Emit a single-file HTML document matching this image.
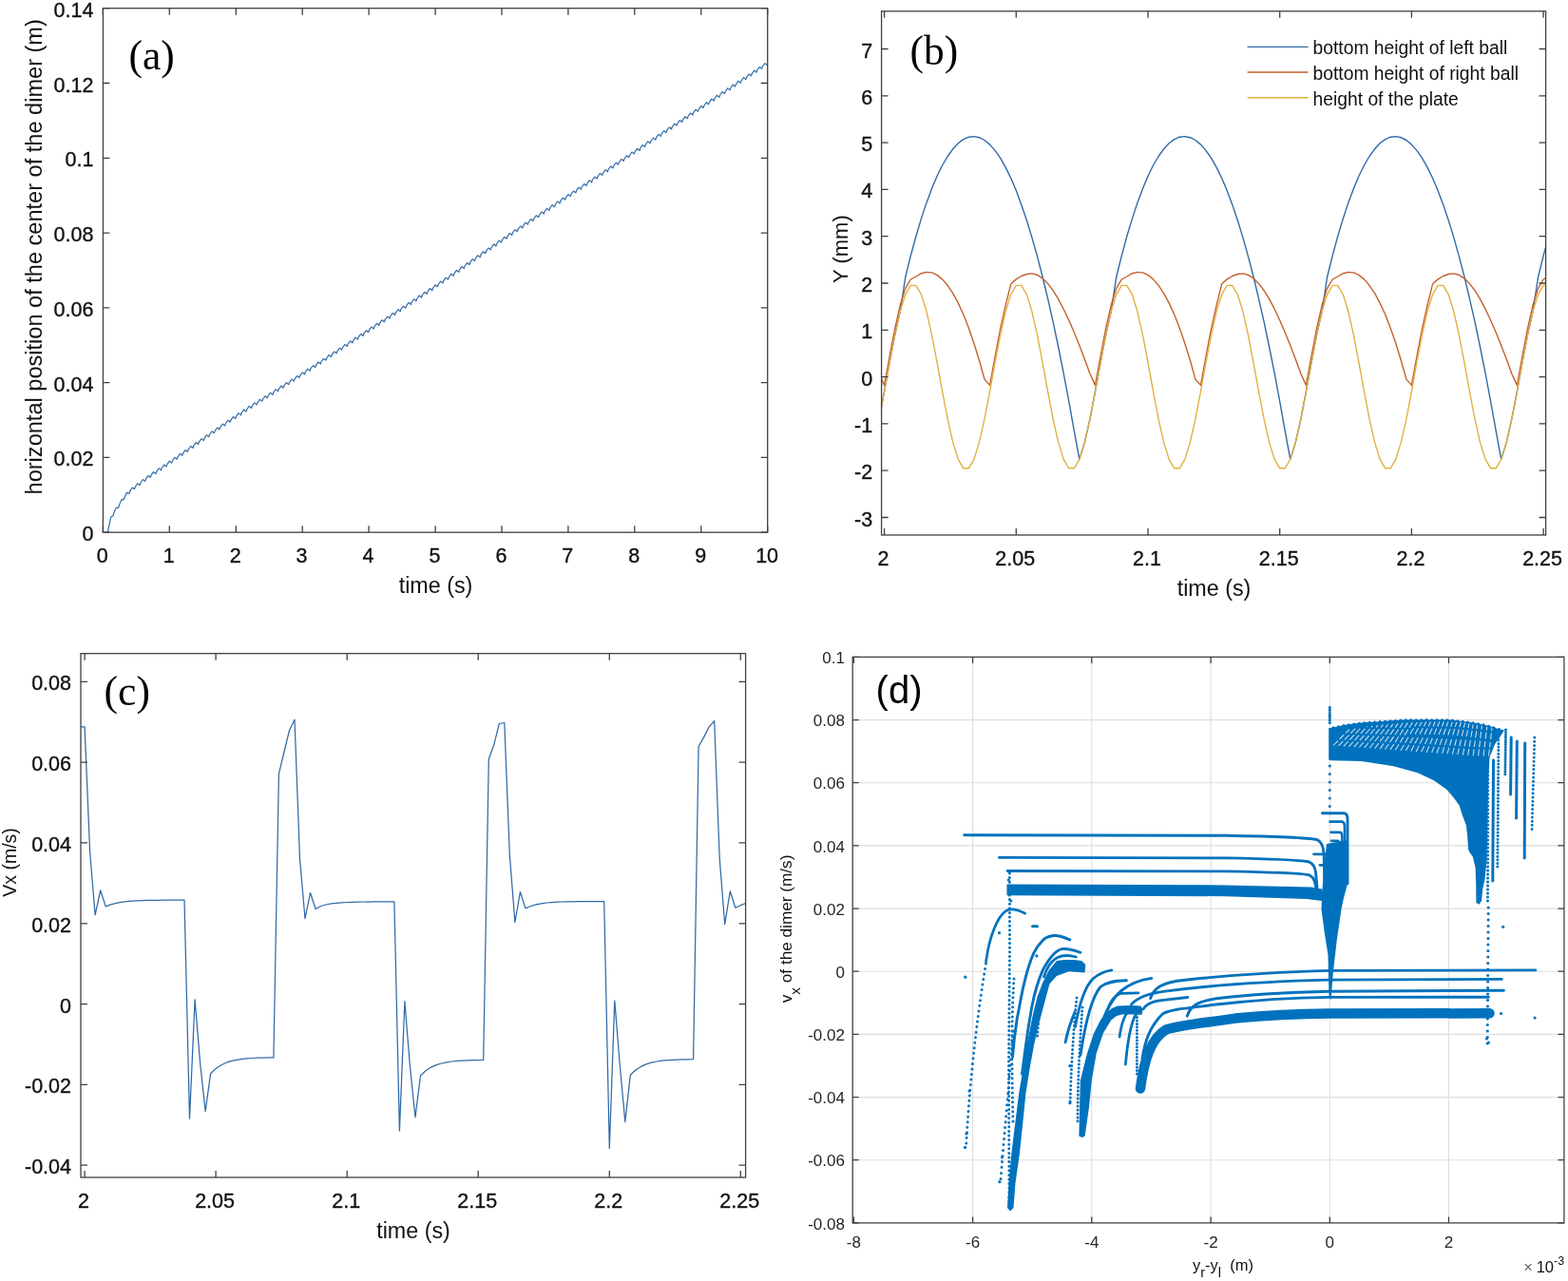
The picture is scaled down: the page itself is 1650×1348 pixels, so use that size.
<!DOCTYPE html>
<html><head><meta charset="utf-8"><title>Dimer dynamics figure</title>
<style>html,body{margin:0;padding:0;background:#fff;}svg{display:block;}</style>
</head><body>
<svg width="1650" height="1348" viewBox="0 0 1650 1348" font-family="'Liberation Sans', Arial, sans-serif"><polyline fill="none" stroke="#2f6aa6" stroke-width="1.2" stroke-linejoin="round" points="113.3,560.2 113.6,559 113.9,557.7 114.1,556.2 114.4,554.8 114.7,553.5 115,552.1 115.3,550.8 115.5,549.5 115.8,548.2 116.1,547 116.4,545.7 116.7,544.6 116.9,544 117.2,543.6 117.5,543.5 117.8,543.3 118.1,543.1 118.3,543 118.6,542.8 118.9,542.7 119.2,542.7 119.4,541.4 119.7,540.1 120,539.4 120.3,538.8 120.6,538.1 120.8,537.5 121.1,536.9 121.4,536.3 121.7,535.7 122,535.1 122.2,534.5 122.5,534.3 122.8,534.2 123.1,534.3 123.4,534.3 123.6,534.3 123.9,534.3 124.2,534.3 124.5,534.2 124.8,534.2 125,533 125.3,531.7 125.6,531 125.9,530.4 126.2,529.7 126.4,529.1 126.7,528.5 127,527.8 127.3,527.2 127.6,526.6 127.8,526 128.1,525.8 128.4,525.6 128.7,525.8 129,525.8 129.2,525.8 129.5,525.9 129.8,525.9 130.1,525.9 130.4,525.9 130.6,524.8 130.9,523.5 131.2,522.9 131.5,522.3 131.8,521.8 132,521.2 132.3,520.7 132.6,520.1 132.9,519.6 133.2,519.1 133.4,518.5 133.7,518.4 134,518.5 134.3,518.7 134.6,518.9 134.8,519 135.1,519.1 135.4,519.3 135.7,519.4 136,519.5 136.2,518.5 136.5,517.4 136.8,516.8 137.1,516.4 137.4,515.9 137.6,515.5 137.9,515 138.2,514.6 138.5,514.1 138.7,513.7 139,513.2 139.3,513.2 139.6,513.3 139.9,513.6 140.1,513.8 140.4,514 140.7,514.2 141,514.4 141.3,514.6 141.5,514.7 141.8,513.8 142.1,512.7 142.4,512.2 142.7,511.8 142.9,511.4 143.2,510.9 143.5,510.5 143.8,510.1 144.1,509.7 144.3,509.3 144.6,508.9 144.9,508.9 145.2,509 145.5,509.3 145.7,509.5 146,509.7 146.3,509.9 146.6,510.1 146.9,510.3 147.1,510.5 147.4,509.6 147.7,508.5 148,508 148.3,507.6 148.5,507.2 148.8,506.8 149.1,506.3 149.4,505.9 149.7,505.5 149.9,505.1 150.2,504.7 150.5,504.7 150.8,504.8 151.1,505.1 151.3,505.3 151.6,505.6 151.9,505.8 152.2,506 152.5,506.2 152.7,506.4 153,505.4 153.3,504.3 153.6,503.9 153.9,503.4 154.1,503 154.4,502.6 154.7,502.2 155,501.8 155.3,501.4 155.5,501 155.8,500.6 156.1,500.6 156.4,500.7 156.7,501.1 156.9,501.3 157.2,501.5 157.5,501.8 157.8,502 158.1,502.2 158.3,502.4 158.6,501.5 158.9,500.4 159.2,499.9 159.4,499.5 159.7,499.1 160,498.7 160.3,498.3 160.6,497.9 160.8,497.5 161.1,497.1 161.4,496.7 161.7,496.7 162,496.9 162.2,497.2 162.5,497.5 162.8,497.7 163.1,497.9 163.4,498.1 163.6,498.3 163.9,498.6 164.2,497.6 164.5,496.6 164.8,496.1 165,495.7 165.3,495.3 165.6,494.9 165.9,494.5 166.2,494.1 166.4,493.7 166.7,493.3 167,492.9 167.3,493 167.6,493.1 167.8,493.4 168.1,493.7 168.4,493.9 168.7,494.1 169,494.4 169.2,494.6 169.5,494.8 169.8,493.9 170.1,492.8 170.4,492.3 170.6,491.9 170.9,491.5 171.2,491.1 171.5,490.8 171.8,490.4 172,490 172.3,489.6 172.6,489.2 172.9,489.2 173.2,489.3 173.4,489.7 173.7,489.9 174,490.1 174.3,490.4 174.6,490.6 174.8,490.8 175.1,491 175.4,490.1 175.7,489 176,488.5 176.2,488.1 176.5,487.7 176.8,487.3 177.1,486.9 177.4,486.5 177.6,486.1 177.9,485.7 178.2,485.3 178.5,485.4 178.7,485.5 179,485.8 179.3,486.1 179.6,486.3 179.9,486.5 180.1,486.7 180.4,486.9 180.7,487.1 181,486.2 181.3,485.1 181.5,484.7 181.8,484.2 182.1,483.9 182.4,483.5 182.7,483.1 182.9,482.7 183.2,482.2 183.5,481.8 183.8,481.4 184.1,481.5 184.3,481.6 184.6,481.9 184.9,482.2 185.2,482.4 185.5,482.6 185.7,482.8 186,483 186.3,483.2 186.6,482.3 186.9,481.2 187.1,480.7 187.4,480.3 187.7,479.9 188,479.5 188.3,479.1 188.5,478.7 188.8,478.3 189.1,477.9 189.4,477.5 189.7,477.5 189.9,477.6 190.2,478 190.5,478.2 190.8,478.5 191.1,478.7 191.3,478.9 191.6,479.1 191.9,479.3 192.2,478.4 192.5,477.3 192.7,476.8 193,476.4 193.3,476 193.6,475.6 193.9,475.2 194.1,474.8 194.4,474.4 194.7,474 195,473.6 195.3,473.6 195.5,473.7 195.8,474.1 196.1,474.3 196.4,474.5 196.7,474.7 196.9,475 197.2,475.2 197.5,475.4 197.8,474.4 198.1,473.4 198.3,472.9 198.6,472.5 198.9,472.1 199.2,471.7 199.4,471.3 199.7,470.9 200,470.5 200.3,470 200.6,469.6 200.8,469.7 201.1,469.8 201.4,470.1 201.7,470.4 202,470.6 202.2,470.8 202.5,471 202.8,471.2 203.1,471.4 203.4,470.5 203.6,469.4 203.9,468.9 204.2,468.5 204.5,468.1 204.8,467.7 205,467.3 205.3,466.9 205.6,466.5 205.9,466.1 206.2,465.7 206.4,465.7 206.7,465.8 207,466.2 207.3,466.4 207.6,466.6 207.8,466.9 208.1,467.1 208.4,467.3 208.7,467.5 209,466.5 209.2,465.5 209.5,465 209.8,464.6 210.1,464.2 210.4,463.8 210.6,463.4 210.9,463 211.2,462.6 211.5,462.2 211.8,461.8 212,461.8 212.3,461.9 212.6,462.2 212.9,462.5 213.2,462.7 213.4,462.9 213.7,463.1 214,463.3 214.3,463.6 214.6,462.6 214.8,461.5 215.1,461.1 215.4,460.7 215.7,460.3 216,459.9 216.2,459.5 216.5,459.1 216.8,458.6 217.1,458.2 217.4,457.8 217.6,457.9 217.9,458 218.2,458.3 218.5,458.6 218.7,458.8 219,459 219.3,459.2 219.6,459.4 219.9,459.6 220.1,458.7 220.4,457.6 220.7,457.1 221,456.7 221.3,456.3 221.5,455.9 221.8,455.5 222.1,455.1 222.4,454.7 222.7,454.3 222.9,453.9 223.2,454 223.5,454.1 223.8,454.4 224.1,454.7 224.3,454.9 224.6,455.1 224.9,455.3 225.2,455.5 225.5,455.7 225.7,454.8 226,453.7 226.3,453.3 226.6,452.8 226.9,452.5 227.1,452.1 227.4,451.7 227.7,451.3 228,450.8 228.3,450.4 228.5,450 228.8,450.1 229.1,450.2 229.4,450.5 229.7,450.8 229.9,451 230.2,451.2 230.5,451.4 230.8,451.7 231.1,451.9 231.3,450.9 231.6,449.9 231.9,449.4 232.2,449 232.5,448.6 232.7,448.2 233,447.8 233.3,447.4 233.6,447 233.9,446.6 234.1,446.2 234.4,446.2 234.7,446.3 235,446.7 235.3,446.9 235.5,447.2 235.8,447.4 236.1,447.6 236.4,447.8 236.7,448 236.9,447.1 237.2,446 237.5,445.6 237.8,445.1 238.1,444.8 238.3,444.4 238.6,444 238.9,443.6 239.2,443.2 239.4,442.8 239.7,442.4 240,442.4 240.3,442.5 240.6,442.9 240.8,443.1 241.1,443.3 241.4,443.6 241.7,443.8 242,444 242.2,444.2 242.5,443.3 242.8,442.2 243.1,441.8 243.4,441.4 243.6,441 243.9,440.6 244.2,440.2 244.5,439.8 244.8,439.4 245,439 245.3,438.6 245.6,438.6 245.9,438.7 246.2,439.1 246.4,439.3 246.7,439.6 247,439.8 247.3,440 247.6,440.2 247.8,440.5 248.1,439.5 248.4,438.5 248.7,438 249,437.6 249.2,437.2 249.5,436.8 249.8,436.4 250.1,436 250.4,435.7 250.6,435.3 250.9,434.9 251.2,434.9 251.5,435 251.8,435.4 252,435.6 252.3,435.9 252.6,436.1 252.9,436.3 253.2,436.5 253.4,436.8 253.7,435.8 254,434.8 254.3,434.3 254.6,433.9 254.8,433.5 255.1,433.1 255.4,432.8 255.7,432.4 256,432 256.2,431.6 256.5,431.2 256.8,431.2 257.1,431.3 257.4,431.7 257.6,432 257.9,432.2 258.2,432.4 258.5,432.7 258.7,432.9 259,433.1 259.3,432.2 259.6,431.1 259.9,430.7 260.1,430.3 260.4,429.9 260.7,429.5 261,429.1 261.3,428.7 261.5,428.3 261.8,427.9 262.1,427.5 262.4,427.6 262.7,427.7 262.9,428.1 263.2,428.3 263.5,428.6 263.8,428.8 264.1,429 264.3,429.3 264.6,429.5 264.9,428.6 265.2,427.5 265.5,427 265.7,426.7 266,426.3 266.3,425.9 266.6,425.5 266.9,425.1 267.1,424.7 267.4,424.3 267.7,424 268,424 268.3,424.1 268.5,424.5 268.8,424.7 269.1,425 269.4,425.2 269.7,425.4 269.9,425.7 270.2,425.9 270.5,425 270.8,423.9 271.1,423.5 271.3,423.1 271.6,422.7 271.9,422.3 272.2,421.9 272.5,421.5 272.7,421.2 273,420.8 273.3,420.4 273.6,420.4 273.9,420.5 274.1,420.9 274.4,421.2 274.7,421.4 275,421.7 275.3,421.9 275.5,422.1 275.8,422.3 276.1,421.4 276.4,420.4 276.7,419.9 276.9,419.5 277.2,419.1 277.5,418.8 277.8,418.4 278.1,418 278.3,417.6 278.6,417.2 278.9,416.8 279.2,416.9 279.4,417 279.7,417.4 280,417.6 280.3,417.9 280.6,418.1 280.8,418.3 281.1,418.6 281.4,418.8 281.7,417.9 282,416.8 282.2,416.4 282.5,416 282.8,415.6 283.1,415.2 283.4,414.8 283.6,414.5 283.9,414.1 284.2,413.7 284.5,413.3 284.8,413.3 285,413.5 285.3,413.8 285.6,414.1 285.9,414.3 286.2,414.6 286.4,414.8 286.7,415 287,415.3 287.3,414.4 287.6,413.3 287.8,412.8 288.1,412.5 288.4,412.1 288.7,411.7 289,411.3 289.2,410.9 289.5,410.5 289.8,410.2 290.1,409.8 290.4,409.8 290.6,409.9 290.9,410.3 291.2,410.6 291.5,410.8 291.8,411.1 292,411.3 292.3,411.5 292.6,411.7 292.9,410.8 293.2,409.8 293.4,409.3 293.7,408.9 294,408.6 294.3,408.2 294.6,407.8 294.8,407.4 295.1,407 295.4,406.6 295.7,406.2 296,406.3 296.2,406.4 296.5,406.8 296.8,407 297.1,407.3 297.4,407.5 297.6,407.8 297.9,408 298.2,408.2 298.5,407.3 298.7,406.2 299,405.8 299.3,405.4 299.6,405 299.9,404.6 300.1,404.3 300.4,403.9 300.7,403.5 301,403.1 301.3,402.7 301.5,402.7 301.8,402.9 302.1,403.2 302.4,403.5 302.7,403.7 302.9,404 303.2,404.2 303.5,404.4 303.8,404.7 304.1,403.7 304.3,402.7 304.6,402.2 304.9,401.8 305.2,401.5 305.5,401.1 305.7,400.7 306,400.3 306.3,399.9 306.6,399.5 306.9,399.2 307.1,399.2 307.4,399.3 307.7,399.7 308,399.9 308.3,400.2 308.5,400.4 308.8,400.7 309.1,400.9 309.4,401.1 309.7,400.2 309.9,399.1 310.2,398.7 310.5,398.3 310.8,397.9 311.1,397.5 311.3,397.1 311.6,396.7 311.9,396.4 312.2,396 312.5,395.6 312.7,395.6 313,395.7 313.3,396.1 313.6,396.4 313.9,396.6 314.1,396.8 314.4,397.1 314.7,397.3 315,397.5 315.3,396.6 315.5,395.5 315.8,395.1 316.1,394.7 316.4,394.3 316.7,393.9 316.9,393.5 317.2,393.1 317.5,392.7 317.8,392.4 318.1,392 318.3,392 318.6,392.1 318.9,392.5 319.2,392.7 319.4,393 319.7,393.2 320,393.4 320.3,393.7 320.6,393.9 320.8,393 321.1,391.9 321.4,391.4 321.7,391 322,390.7 322.2,390.3 322.5,389.9 322.8,389.5 323.1,389.1 323.4,388.7 323.6,388.3 323.9,388.4 324.2,388.5 324.5,388.8 324.8,389.1 325,389.3 325.3,389.6 325.6,389.8 325.9,390 326.2,390.2 326.4,389.3 326.7,388.3 327,387.8 327.3,387.4 327.6,387 327.8,386.6 328.1,386.2 328.4,385.9 328.7,385.5 329,385.1 329.2,384.7 329.5,384.7 329.8,384.8 330.1,385.2 330.4,385.5 330.6,385.7 330.9,385.9 331.2,386.1 331.5,386.4 331.8,386.6 332,385.7 332.3,384.6 332.6,384.1 332.9,383.7 333.2,383.4 333.4,383 333.7,382.6 334,382.2 334.3,381.8 334.6,381.4 334.8,381 335.1,381 335.4,381.2 335.7,381.5 336,381.8 336.2,382 336.5,382.3 336.8,382.5 337.1,382.7 337.4,382.9 337.6,382 337.9,380.9 338.2,380.5 338.5,380.1 338.7,379.7 339,379.3 339.3,378.9 339.6,378.5 339.9,378.1 340.1,377.7 340.4,377.3 340.7,377.4 341,377.5 341.3,377.9 341.5,378.1 341.8,378.3 342.1,378.6 342.4,378.8 342.7,379 342.9,379.2 343.2,378.3 343.5,377.3 343.8,376.8 344.1,376.4 344.3,376 344.6,375.6 344.9,375.2 345.2,374.8 345.5,374.4 345.7,374.1 346,373.7 346.3,373.7 346.6,373.8 346.9,374.2 347.1,374.4 347.4,374.7 347.7,374.9 348,375.1 348.3,375.3 348.5,375.6 348.8,374.6 349.1,373.6 349.4,373.1 349.7,372.7 349.9,372.3 350.2,371.9 350.5,371.5 350.8,371.2 351.1,370.8 351.3,370.4 351.6,370 351.9,370 352.2,370.1 352.5,370.5 352.7,370.7 353,371 353.3,371.2 353.6,371.4 353.9,371.6 354.1,371.9 354.4,370.9 354.7,369.9 355,369.4 355.3,369 355.5,368.6 355.8,368.2 356.1,367.9 356.4,367.5 356.7,367.1 356.9,366.7 357.2,366.3 357.5,366.3 357.8,366.4 358.1,366.8 358.3,367 358.6,367.3 358.9,367.5 359.2,367.7 359.4,368 359.7,368.2 360,367.2 360.3,366.2 360.6,365.7 360.8,365.3 361.1,364.9 361.4,364.5 361.7,364.2 362,363.8 362.2,363.4 362.5,363 362.8,362.6 363.1,362.6 363.4,362.7 363.6,363.1 363.9,363.3 364.2,363.6 364.5,363.8 364.8,364 365,364.3 365.3,364.5 365.6,363.5 365.9,362.5 366.2,362 366.4,361.6 366.7,361.2 367,360.9 367.3,360.5 367.6,360.1 367.8,359.7 368.1,359.3 368.4,358.9 368.7,358.9 369,359 369.2,359.4 369.5,359.6 369.8,359.9 370.1,360.1 370.4,360.3 370.6,360.6 370.9,360.8 371.2,359.8 371.5,358.8 371.8,358.3 372,357.9 372.3,357.5 372.6,357.2 372.9,356.8 373.2,356.4 373.4,356 373.7,355.6 374,355.2 374.3,355.2 374.6,355.3 374.8,355.7 375.1,355.9 375.4,356.2 375.7,356.4 376,356.6 376.2,356.9 376.5,357.1 376.8,356.2 377.1,355.1 377.4,354.6 377.6,354.2 377.9,353.8 378.2,353.5 378.5,353.1 378.7,352.7 379,352.3 379.3,351.9 379.6,351.5 379.9,351.5 380.1,351.6 380.4,352 380.7,352.3 381,352.5 381.3,352.7 381.5,352.9 381.8,353.2 382.1,353.4 382.4,352.5 382.7,351.4 382.9,350.9 383.2,350.5 383.5,350.2 383.8,349.8 384.1,349.4 384.3,349 384.6,348.6 384.9,348.2 385.2,347.8 385.5,347.8 385.7,348 386,348.3 386.3,348.6 386.6,348.8 386.9,349 387.1,349.3 387.4,349.5 387.7,349.7 388,348.8 388.3,347.7 388.5,347.2 388.8,346.8 389.1,346.5 389.4,346.1 389.7,345.7 389.9,345.3 390.2,344.9 390.5,344.5 390.8,344.1 391.1,344.1 391.3,344.3 391.6,344.6 391.9,344.9 392.2,345.1 392.5,345.4 392.7,345.6 393,345.8 393.3,346 393.6,345.1 393.9,344 394.1,343.6 394.4,343.2 394.7,342.8 395,342.4 395.3,342 395.5,341.6 395.8,341.2 396.1,340.8 396.4,340.4 396.7,340.5 396.9,340.6 397.2,341 397.5,341.2 397.8,341.5 398.1,341.7 398.3,341.9 398.6,342.1 398.9,342.4 399.2,341.4 399.4,340.4 399.7,339.9 400,339.5 400.3,339.1 400.6,338.7 400.8,338.3 401.1,338 401.4,337.6 401.7,337.2 402,336.8 402.2,336.8 402.5,336.9 402.8,337.3 403.1,337.6 403.4,337.8 403.6,338 403.9,338.2 404.2,338.5 404.5,338.7 404.8,337.8 405,336.7 405.3,336.2 405.6,335.8 405.9,335.5 406.2,335.1 406.4,334.7 406.7,334.3 407,333.9 407.3,333.5 407.6,333.1 407.8,333.2 408.1,333.3 408.4,333.6 408.7,333.9 409,334.1 409.2,334.4 409.5,334.6 409.8,334.8 410.1,335 410.4,334.1 410.6,333 410.9,332.6 411.2,332.2 411.5,331.8 411.8,331.4 412,331 412.3,330.6 412.6,330.2 412.9,329.9 413.2,329.5 413.4,329.5 413.7,329.6 414,330 414.3,330.2 414.6,330.5 414.8,330.7 415.1,330.9 415.4,331.2 415.7,331.4 416,330.5 416.2,329.4 416.5,328.9 416.8,328.5 417.1,328.2 417.4,327.8 417.6,327.4 417.9,327 418.2,326.6 418.5,326.2 418.7,325.8 419,325.8 419.3,326 419.6,326.3 419.9,326.6 420.1,326.8 420.4,327 420.7,327.3 421,327.5 421.3,327.7 421.5,326.8 421.8,325.7 422.1,325.3 422.4,324.9 422.7,324.5 422.9,324.1 423.2,323.7 423.5,323.3 423.8,322.9 424.1,322.5 424.3,322.1 424.6,322.2 424.9,322.3 425.2,322.7 425.5,322.9 425.7,323.2 426,323.4 426.3,323.6 426.6,323.8 426.9,324.1 427.1,323.1 427.4,322.1 427.7,321.6 428,321.2 428.3,320.8 428.5,320.4 428.8,320 429.1,319.7 429.4,319.3 429.7,318.9 429.9,318.5 430.2,318.5 430.5,318.6 430.8,319 431.1,319.2 431.3,319.5 431.6,319.7 431.9,319.9 432.2,320.2 432.5,320.4 432.7,319.4 433,318.4 433.3,317.9 433.6,317.5 433.9,317.1 434.1,316.8 434.4,316.4 434.7,316 435,315.6 435.3,315.2 435.5,314.8 435.8,314.8 436.1,314.9 436.4,315.3 436.7,315.6 436.9,315.8 437.2,316 437.5,316.2 437.8,316.5 438.1,316.7 438.3,315.8 438.6,314.7 438.9,314.2 439.2,313.8 439.4,313.4 439.7,313.1 440,312.7 440.3,312.3 440.6,311.9 440.8,311.5 441.1,311.1 441.4,311.1 441.7,311.2 442,311.6 442.2,311.9 442.5,312.1 442.8,312.3 443.1,312.5 443.4,312.8 443.6,313 443.9,312 444.2,311 444.5,310.5 444.8,310.1 445,309.7 445.3,309.3 445.6,309 445.9,308.6 446.2,308.2 446.4,307.8 446.7,307.4 447,307.4 447.3,307.5 447.6,307.9 447.8,308.1 448.1,308.4 448.4,308.6 448.7,308.8 449,309 449.2,309.3 449.5,308.3 449.8,307.3 450.1,306.8 450.4,306.4 450.6,306 450.9,305.6 451.2,305.2 451.5,304.8 451.8,304.4 452,304 452.3,303.6 452.6,303.7 452.9,303.8 453.2,304.1 453.4,304.4 453.7,304.6 454,304.8 454.3,305.1 454.6,305.3 454.8,305.5 455.1,304.6 455.4,303.5 455.7,303 456,302.6 456.2,302.2 456.5,301.9 456.8,301.5 457.1,301.1 457.4,300.7 457.6,300.3 457.9,299.9 458.2,299.9 458.5,300 458.7,300.4 459,300.6 459.3,300.8 459.6,301.1 459.9,301.3 460.1,301.5 460.4,301.7 460.7,300.8 461,299.7 461.3,299.3 461.5,298.8 461.8,298.5 462.1,298.1 462.4,297.7 462.7,297.3 462.9,296.9 463.2,296.5 463.5,296.1 463.8,296.1 464.1,296.2 464.3,296.6 464.6,296.8 464.9,297 465.2,297.3 465.5,297.5 465.7,297.7 466,297.9 466.3,297 466.6,295.9 466.9,295.4 467.1,295 467.4,294.6 467.7,294.2 468,293.8 468.3,293.4 468.5,293 468.8,292.6 469.1,292.2 469.4,292.3 469.7,292.4 469.9,292.7 470.2,293 470.5,293.2 470.8,293.4 471.1,293.6 471.3,293.9 471.6,294.1 471.9,293.1 472.2,292.1 472.5,291.6 472.7,291.2 473,290.8 473.3,290.4 473.6,290 473.9,289.6 474.1,289.2 474.4,288.8 474.7,288.4 475,288.4 475.3,288.5 475.5,288.9 475.8,289.1 476.1,289.3 476.4,289.6 476.7,289.8 476.9,290 477.2,290.2 477.5,289.3 477.8,288.2 478,287.7 478.3,287.3 478.6,286.9 478.9,286.5 479.2,286.1 479.4,285.7 479.7,285.3 480,284.9 480.3,284.5 480.6,284.5 480.8,284.6 481.1,285 481.4,285.2 481.7,285.4 482,285.7 482.2,285.9 482.5,286.1 482.8,286.3 483.1,285.4 483.4,284.3 483.6,283.8 483.9,283.4 484.2,283 484.5,282.6 484.8,282.2 485,281.8 485.3,281.4 485.6,281 485.9,280.6 486.2,280.6 486.4,280.7 486.7,281.1 487,281.3 487.3,281.5 487.6,281.8 487.8,282 488.1,282.2 488.4,282.4 488.7,281.4 489,280.4 489.2,279.9 489.5,279.5 489.8,279.1 490.1,278.7 490.4,278.3 490.6,277.9 490.9,277.5 491.2,277.1 491.5,276.7 491.8,276.7 492,276.8 492.3,277.1 492.6,277.4 492.9,277.6 493.2,277.8 493.4,278 493.7,278.3 494,278.5 494.3,277.5 494.6,276.4 494.8,276 495.1,275.6 495.4,275.2 495.7,274.8 496,274.4 496.2,274 496.5,273.6 496.8,273.2 497.1,272.7 497.4,272.8 497.6,272.9 497.9,273.2 498.2,273.5 498.5,273.7 498.7,273.9 499,274.1 499.3,274.3 499.6,274.5 499.9,273.6 500.1,272.5 500.4,272.1 500.7,271.6 501,271.2 501.3,270.8 501.5,270.4 501.8,270 502.1,269.6 502.4,269.2 502.7,268.8 502.9,268.8 503.2,268.9 503.5,269.3 503.8,269.5 504.1,269.8 504.3,270 504.6,270.2 504.9,270.4 505.2,270.6 505.5,269.7 505.7,268.6 506,268.1 506.3,267.7 506.6,267.3 506.9,266.9 507.1,266.5 507.4,266.1 507.7,265.7 508,265.3 508.3,264.9 508.5,264.9 508.8,265 509.1,265.4 509.4,265.6 509.7,265.8 509.9,266.1 510.2,266.3 510.5,266.5 510.8,266.7 511.1,265.8 511.3,264.7 511.6,264.2 511.9,263.8 512.2,263.4 512.5,263 512.7,262.6 513,262.2 513.3,261.8 513.6,261.4 513.9,261 514.1,261 514.4,261.1 514.7,261.5 515,261.7 515.3,261.9 515.5,262.2 515.8,262.4 516.1,262.6 516.4,262.8 516.7,261.9 516.9,260.8 517.2,260.3 517.5,259.9 517.8,259.5 518,259.1 518.3,258.7 518.6,258.3 518.9,257.9 519.2,257.5 519.4,257.1 519.7,257.1 520,257.2 520.3,257.6 520.6,257.8 520.8,258 521.1,258.3 521.4,258.5 521.7,258.7 522,258.9 522.2,258 522.5,256.9 522.8,256.4 523.1,256 523.4,255.6 523.6,255.2 523.9,254.8 524.2,254.4 524.5,254 524.8,253.6 525,253.2 525.3,253.2 525.6,253.3 525.9,253.7 526.2,253.9 526.4,254.2 526.7,254.4 527,254.6 527.3,254.8 527.6,255 527.8,254.1 528.1,253 528.4,252.6 528.7,252.1 529,251.8 529.2,251.4 529.5,251 529.8,250.6 530.1,250.2 530.4,249.8 530.6,249.4 530.9,249.4 531.2,249.5 531.5,249.8 531.8,250.1 532,250.3 532.3,250.6 532.6,250.8 532.9,251 533.2,251.2 533.4,250.3 533.7,249.2 534,248.7 534.3,248.3 534.6,247.9 534.8,247.5 535.1,247.1 535.4,246.7 535.7,246.3 536,245.9 536.2,245.5 536.5,245.6 536.8,245.7 537.1,246 537.4,246.3 537.6,246.5 537.9,246.7 538.2,247 538.5,247.2 538.7,247.4 539,246.5 539.3,245.4 539.6,244.9 539.9,244.5 540.1,244.1 540.4,243.7 540.7,243.3 541,242.9 541.3,242.6 541.5,242.2 541.8,241.8 542.1,241.8 542.4,241.9 542.7,242.2 542.9,242.5 543.2,242.7 543.5,243 543.8,243.2 544.1,243.4 544.3,243.6 544.6,242.7 544.9,241.6 545.2,241.2 545.5,240.7 545.7,240.4 546,240 546.3,239.6 546.6,239.2 546.9,238.8 547.1,238.4 547.4,238 547.7,238 548,238.1 548.3,238.5 548.5,238.7 548.8,239 549.1,239.2 549.4,239.4 549.7,239.6 549.9,239.9 550.2,238.9 550.5,237.9 550.8,237.4 551.1,237 551.3,236.6 551.6,236.2 551.9,235.8 552.2,235.4 552.5,235 552.7,234.6 553,234.2 553.3,234.3 553.6,234.4 553.9,234.7 554.1,235 554.4,235.2 554.7,235.5 555,235.7 555.3,235.9 555.5,236.1 555.8,235.2 556.1,234.1 556.4,233.7 556.7,233.3 556.9,232.9 557.2,232.5 557.5,232.1 557.8,231.7 558,231.3 558.3,230.9 558.6,230.5 558.9,230.5 559.2,230.7 559.4,231 559.7,231.3 560,231.5 560.3,231.7 560.6,232 560.8,232.2 561.1,232.4 561.4,231.5 561.7,230.4 562,229.9 562.2,229.5 562.5,229.2 562.8,228.8 563.1,228.4 563.4,228 563.6,227.6 563.9,227.2 564.2,226.8 564.5,226.8 564.8,226.9 565,227.3 565.3,227.6 565.6,227.8 565.9,228 566.2,228.2 566.4,228.5 566.7,228.7 567,227.7 567.3,226.7 567.6,226.2 567.8,225.8 568.1,225.4 568.4,225.1 568.7,224.7 569,224.3 569.2,223.9 569.5,223.5 569.8,223.1 570.1,223.1 570.4,223.2 570.6,223.6 570.9,223.8 571.2,224.1 571.5,224.3 571.8,224.5 572,224.8 572.3,225 572.6,224 572.9,223 573.2,222.5 573.4,222.1 573.7,221.7 574,221.4 574.3,221 574.6,220.6 574.8,220.2 575.1,219.8 575.4,219.4 575.7,219.4 576,219.5 576.2,219.9 576.5,220.2 576.8,220.4 577.1,220.6 577.4,220.8 577.6,221.1 577.9,221.3 578.2,220.4 578.5,219.3 578.7,218.8 579,218.4 579.3,218.1 579.6,217.7 579.9,217.3 580.1,216.9 580.4,216.5 580.7,216.1 581,215.7 581.3,215.7 581.5,215.8 581.8,216.2 582.1,216.5 582.4,216.7 582.7,216.9 582.9,217.2 583.2,217.4 583.5,217.6 583.8,216.7 584.1,215.6 584.3,215.1 584.6,214.7 584.9,214.4 585.2,214 585.5,213.6 585.7,213.2 586,212.8 586.3,212.4 586.6,212 586.9,212 587.1,212.2 587.4,212.5 587.7,212.8 588,213 588.3,213.2 588.5,213.5 588.8,213.7 589.1,213.9 589.4,213 589.7,211.9 589.9,211.5 590.2,211.1 590.5,210.7 590.8,210.3 591.1,209.9 591.3,209.5 591.6,209.1 591.9,208.7 592.2,208.3 592.5,208.4 592.7,208.5 593,208.8 593.3,209.1 593.6,209.3 593.9,209.6 594.1,209.8 594.4,210 594.7,210.2 595,209.3 595.3,208.2 595.5,207.8 595.8,207.4 596.1,207 596.4,206.6 596.7,206.2 596.9,205.8 597.2,205.4 597.5,205 597.8,204.6 598,204.7 598.3,204.8 598.6,205.2 598.9,205.4 599.2,205.7 599.4,205.9 599.7,206.1 600,206.3 600.3,206.6 600.6,205.6 600.8,204.6 601.1,204.1 601.4,203.7 601.7,203.3 602,202.9 602.2,202.5 602.5,202.1 602.8,201.8 603.1,201.4 603.4,201 603.6,201 603.9,201.1 604.2,201.5 604.5,201.7 604.8,202 605,202.2 605.3,202.4 605.6,202.6 605.9,202.9 606.2,201.9 606.4,200.9 606.7,200.4 607,200 607.3,199.6 607.6,199.2 607.8,198.8 608.1,198.5 608.4,198.1 608.7,197.7 609,197.3 609.2,197.3 609.5,197.4 609.8,197.8 610.1,198 610.4,198.3 610.6,198.5 610.9,198.7 611.2,199 611.5,199.2 611.8,198.2 612,197.2 612.3,196.7 612.6,196.3 612.9,195.9 613.2,195.5 613.4,195.2 613.7,194.8 614,194.4 614.3,194 614.6,193.6 614.8,193.6 615.1,193.7 615.4,194.1 615.7,194.3 616,194.6 616.2,194.8 616.5,195 616.8,195.3 617.1,195.5 617.4,194.5 617.6,193.5 617.9,193 618.2,192.6 618.5,192.2 618.7,191.8 619,191.5 619.3,191.1 619.6,190.7 619.9,190.3 620.1,189.9 620.4,189.9 620.7,190 621,190.4 621.3,190.6 621.5,190.9 621.8,191.1 622.1,191.3 622.4,191.5 622.7,191.8 622.9,190.8 623.2,189.8 623.5,189.3 623.8,188.9 624.1,188.5 624.3,188.1 624.6,187.7 624.9,187.3 625.2,186.9 625.5,186.6 625.7,186.2 626,186.2 626.3,186.3 626.6,186.7 626.9,186.9 627.1,187.2 627.4,187.4 627.7,187.6 628,187.8 628.3,188 628.5,187.1 628.8,186 629.1,185.6 629.4,185.2 629.7,184.8 629.9,184.4 630.2,184 630.5,183.6 630.8,183.2 631.1,182.8 631.3,182.4 631.6,182.5 631.9,182.6 632.2,182.9 632.5,183.2 632.7,183.4 633,183.7 633.3,183.9 633.6,184.1 633.9,184.3 634.1,183.4 634.4,182.3 634.7,181.9 635,181.5 635.3,181.1 635.5,180.7 635.8,180.3 636.1,179.9 636.4,179.5 636.7,179.1 636.9,178.7 637.2,178.7 637.5,178.9 637.8,179.2 638,179.5 638.3,179.7 638.6,179.9 638.9,180.2 639.2,180.4 639.4,180.6 639.7,179.7 640,178.6 640.3,178.1 640.6,177.7 640.8,177.4 641.1,177 641.4,176.6 641.7,176.2 642,175.8 642.2,175.4 642.5,175 642.8,175 643.1,175.1 643.4,175.5 643.6,175.8 643.9,176 644.2,176.2 644.5,176.4 644.8,176.7 645,176.9 645.3,175.9 645.6,174.9 645.9,174.4 646.2,174 646.4,173.6 646.7,173.2 647,172.9 647.3,172.5 647.6,172.1 647.8,171.7 648.1,171.3 648.4,171.3 648.7,171.4 649,171.8 649.2,172 649.5,172.3 649.8,172.5 650.1,172.7 650.4,172.9 650.6,173.2 650.9,172.2 651.2,171.2 651.5,170.7 651.8,170.3 652,169.9 652.3,169.5 652.6,169.1 652.9,168.7 653.2,168.3 653.4,167.9 653.7,167.5 654,167.6 654.3,167.7 654.6,168.1 654.8,168.3 655.1,168.5 655.4,168.8 655.7,169 656,169.2 656.2,169.4 656.5,168.5 656.8,167.4 657.1,167 657.4,166.6 657.6,166.2 657.9,165.8 658.2,165.4 658.5,165 658.7,164.6 659,164.2 659.3,163.8 659.6,163.9 659.9,164 660.1,164.3 660.4,164.6 660.7,164.8 661,165 661.3,165.3 661.5,165.5 661.8,165.7 662.1,164.8 662.4,163.7 662.7,163.2 662.9,162.8 663.2,162.5 663.5,162.1 663.8,161.7 664.1,161.3 664.3,160.9 664.6,160.5 664.9,160.1 665.2,160.1 665.5,160.2 665.7,160.6 666,160.9 666.3,161.1 666.6,161.3 666.9,161.5 667.1,161.8 667.4,162 667.7,161.1 668,160 668.3,159.5 668.5,159.1 668.8,158.7 669.1,158.3 669.4,158 669.7,157.6 669.9,157.2 670.2,156.8 670.5,156.4 670.8,156.4 671.1,156.5 671.3,156.9 671.6,157.1 671.9,157.4 672.2,157.6 672.5,157.8 672.7,158 673,158.3 673.3,157.3 673.6,156.3 673.9,155.8 674.1,155.4 674.4,155 674.7,154.6 675,154.2 675.3,153.8 675.5,153.4 675.8,153 676.1,152.6 676.4,152.7 676.7,152.8 676.9,153.2 677.2,153.4 677.5,153.6 677.8,153.9 678,154.1 678.3,154.3 678.6,154.5 678.9,153.6 679.2,152.5 679.4,152.1 679.7,151.7 680,151.3 680.3,150.9 680.6,150.5 680.8,150.1 681.1,149.7 681.4,149.3 681.7,148.9 682,149 682.2,149.1 682.5,149.4 682.8,149.7 683.1,149.9 683.4,150.1 683.6,150.4 683.9,150.6 684.2,150.8 684.5,149.9 684.8,148.8 685,148.3 685.3,147.9 685.6,147.6 685.9,147.2 686.2,146.8 686.4,146.4 686.7,146 687,145.6 687.3,145.2 687.6,145.2 687.8,145.3 688.1,145.7 688.4,146 688.7,146.2 689,146.4 689.2,146.6 689.5,146.9 689.8,147.1 690.1,146.1 690.4,145.1 690.6,144.6 690.9,144.2 691.2,143.8 691.5,143.4 691.8,143 692,142.7 692.3,142.3 692.6,141.9 692.9,141.5 693.2,141.5 693.4,141.6 693.7,142 694,142.2 694.3,142.5 694.6,142.7 694.8,142.9 695.1,143.1 695.4,143.3 695.7,142.4 696,141.4 696.2,140.9 696.5,140.5 696.8,140.1 697.1,139.7 697.4,139.3 697.6,138.9 697.9,138.5 698.2,138.1 698.5,137.7 698.7,137.8 699,137.9 699.3,138.2 699.6,138.5 699.9,138.7 700.1,139 700.4,139.2 700.7,139.4 701,139.6 701.3,138.7 701.5,137.6 701.8,137.2 702.1,136.8 702.4,136.4 702.7,136 702.9,135.6 703.2,135.2 703.5,134.8 703.8,134.4 704.1,134 704.3,134 704.6,134.2 704.9,134.5 705.2,134.8 705.5,135 705.7,135.2 706,135.5 706.3,135.7 706.6,135.9 706.9,135 707.1,133.9 707.4,133.4 707.7,133 708,132.6 708.3,132.3 708.5,131.9 708.8,131.5 709.1,131.1 709.4,130.7 709.7,130.3 709.9,130.3 710.2,130.4 710.5,130.8 710.8,131 711.1,131.3 711.3,131.5 711.6,131.7 711.9,131.9 712.2,132.2 712.5,131.2 712.7,130.2 713,129.7 713.3,129.3 713.6,128.9 713.9,128.5 714.1,128.1 714.4,127.7 714.7,127.3 715,126.9 715.3,126.5 715.5,126.6 715.8,126.7 716.1,127 716.4,127.3 716.7,127.5 716.9,127.8 717.2,128 717.5,128.2 717.8,128.4 718,127.5 718.3,126.4 718.6,126 718.9,125.6 719.2,125.2 719.4,124.8 719.7,124.4 720,124 720.3,123.6 720.6,123.2 720.8,122.8 721.1,122.8 721.4,123 721.7,123.3 722,123.6 722.2,123.8 722.5,124 722.8,124.3 723.1,124.5 723.4,124.7 723.6,123.8 723.9,122.7 724.2,122.2 724.5,121.8 724.8,121.4 725,121.1 725.3,120.7 725.6,120.3 725.9,119.9 726.2,119.5 726.4,119.1 726.7,119.1 727,119.2 727.3,119.6 727.6,119.8 727.8,120.1 728.1,120.3 728.4,120.5 728.7,120.7 729,121 729.2,120 729.5,119 729.8,118.5 730.1,118.1 730.4,117.7 730.6,117.3 730.9,116.9 731.2,116.5 731.5,116.1 731.8,115.7 732,115.3 732.3,115.4 732.6,115.5 732.9,115.8 733.2,116.1 733.4,116.3 733.7,116.6 734,116.8 734.3,117 734.6,117.2 734.8,116.3 735.1,115.2 735.4,114.8 735.7,114.4 736,114 736.2,113.6 736.5,113.2 736.8,112.8 737.1,112.4 737.4,112 737.6,111.6 737.9,111.6 738.2,111.8 738.5,112.1 738.7,112.4 739,112.6 739.3,112.8 739.6,113.1 739.9,113.3 740.1,113.5 740.4,112.6 740.7,111.5 741,111 741.3,110.6 741.5,110.2 741.8,109.9 742.1,109.5 742.4,109.1 742.7,108.7 742.9,108.3 743.2,107.9 743.5,107.9 743.8,108 744.1,108.4 744.3,108.6 744.6,108.9 744.9,109.1 745.2,109.3 745.5,109.5 745.7,109.8 746,108.8 746.3,107.8 746.6,107.3 746.9,106.9 747.1,106.5 747.4,106.1 747.7,105.7 748,105.3 748.3,104.9 748.5,104.5 748.8,104.1 749.1,104.2 749.4,104.3 749.7,104.6 749.9,104.9 750.2,105.1 750.5,105.4 750.8,105.6 751.1,105.8 751.3,106 751.6,105.1 751.9,104 752.2,103.6 752.5,103.2 752.7,102.8 753,102.4 753.3,102 753.6,101.6 753.9,101.2 754.1,100.8 754.4,100.4 754.7,100.4 755,100.5 755.3,100.9 755.5,101.2 755.8,101.4 756.1,101.6 756.4,101.8 756.7,102.1 756.9,102.3 757.2,101.3 757.5,100.3 757.8,99.8 758,99.4 758.3,99 758.6,98.6 758.9,98.3 759.2,97.9 759.4,97.5 759.7,97.1 760,96.7 760.3,96.7 760.6,96.8 760.8,97.2 761.1,97.4 761.4,97.7 761.7,97.9 762,98.1 762.2,98.3 762.5,98.5 762.8,97.6 763.1,96.5 763.4,96.1 763.6,95.7 763.9,95.3 764.2,94.9 764.5,94.5 764.8,94.1 765,93.7 765.3,93.3 765.6,92.9 765.9,93 766.2,93.1 766.4,93.4 766.7,93.7 767,93.9 767.3,94.1 767.6,94.4 767.8,94.6 768.1,94.8 768.4,93.9 768.7,92.8 769,92.3 769.2,91.9 769.5,91.6 769.8,91.2 770.1,90.8 770.4,90.4 770.6,90 770.9,89.6 771.2,89.2 771.5,89.2 771.8,89.3 772,89.7 772.3,89.9 772.6,90.2 772.9,90.4 773.2,90.6 773.4,90.8 773.7,91.1 774,90.1 774.3,89.1 774.6,88.6 774.8,88.2 775.1,87.8 775.4,87.4 775.7,87 776,86.6 776.2,86.2 776.5,85.8 776.8,85.4 777.1,85.5 777.4,85.6 777.6,85.9 777.9,86.2 778.2,86.4 778.5,86.7 778.7,86.9 779,87.1 779.3,87.3 779.6,86.4 779.9,85.3 780.1,84.9 780.4,84.5 780.7,84.1 781,83.7 781.3,83.3 781.5,82.9 781.8,82.5 782.1,82.1 782.4,81.7 782.7,81.7 782.9,81.8 783.2,82.2 783.5,82.5 783.8,82.7 784.1,82.9 784.3,83.1 784.6,83.4 784.9,83.6 785.2,82.6 785.5,81.6 785.7,81.1 786,80.7 786.3,80.3 786.6,79.9 786.9,79.5 787.1,79.2 787.4,78.8 787.7,78.4 788,78 788.3,78 788.5,78.1 788.8,78.5 789.1,78.7 789.4,78.9 789.7,79.2 789.9,79.4 790.2,79.6 790.5,79.8 790.8,78.9 791.1,77.8 791.3,77.4 791.6,77 791.9,76.6 792.2,76.2 792.5,75.8 792.7,75.4 793,75 793.3,74.6 793.6,74.2 793.9,74.2 794.1,74.4 794.4,74.7 794.7,75 795,75.2 795.3,75.4 795.5,75.7 795.8,75.9 796.1,76.1 796.4,75.2 796.7,74.1 796.9,73.6 797.2,73.2 797.5,72.8 797.8,72.5 798,72.1 798.3,71.7 798.6,71.3 798.9,70.9 799.2,70.5 799.4,70.5 799.7,70.6 800,71 800.3,71.2 800.6,71.5 800.8,71.7 801.1,71.9 801.4,72.1 801.7,72.3 802,71.4 802.2,70.3 802.5,69.9 802.8,69.5 803.1,69.1 803.4,68.7 803.6,68.3 803.9,67.9 804.2,67.5 804.5,67.1 804.8,66.7 805,66.8 805.3,66.9 805.6,67.2 805.9,67.5 806.2,67.7 806.4,67.9 806.7,68.2 807,68.4 807.3,68.6 807.6,67.7"/>
<path d="M108.4 560.2V553.2M108.4 8.7V15.7M178.3 560.2V553.2M178.3 8.7V15.7M248.3 560.2V553.2M248.3 8.7V15.7M318.2 560.2V553.2M318.2 8.7V15.7M388.1 560.2V553.2M388.1 8.7V15.7M458.1 560.2V553.2M458.1 8.7V15.7M528 560.2V553.2M528 8.7V15.7M597.9 560.2V553.2M597.9 8.7V15.7M667.8 560.2V553.2M667.8 8.7V15.7M737.8 560.2V553.2M737.8 8.7V15.7M807.7 560.2V553.2M807.7 8.7V15.7M108.4 560.2H115.4M807.7 560.2H800.7M108.4 481.4H115.4M807.7 481.4H800.7M108.4 402.6H115.4M807.7 402.6H800.7M108.4 323.8H115.4M807.7 323.8H800.7M108.4 245.1H115.4M807.7 245.1H800.7M108.4 166.3H115.4M807.7 166.3H800.7M108.4 87.5H115.4M807.7 87.5H800.7M108.4 8.7H115.4M807.7 8.7H800.7" stroke="#404040" stroke-width="1.3" fill="none"/>
<rect x="108.4" y="8.7" width="699.3" height="551.5" fill="none" stroke="#404040" stroke-width="1.3"/>
<g font-size="21.5" fill="#111" stroke="#111" stroke-width="0.35"><text x="107.8" y="592.1" text-anchor="middle">0</text><text x="177.7" y="592.1" text-anchor="middle">1</text><text x="247.7" y="592.1" text-anchor="middle">2</text><text x="317.6" y="592.1" text-anchor="middle">3</text><text x="387.5" y="592.1" text-anchor="middle">4</text><text x="457.5" y="592.1" text-anchor="middle">5</text><text x="527.4" y="592.1" text-anchor="middle">6</text><text x="597.3" y="592.1" text-anchor="middle">7</text><text x="667.2" y="592.1" text-anchor="middle">8</text><text x="737.2" y="592.1" text-anchor="middle">9</text><text x="807.1" y="592.1" text-anchor="middle">10</text><text x="98.4" y="569.2" text-anchor="end">0</text><text x="98.4" y="490.4" text-anchor="end">0.02</text><text x="98.4" y="411.6" text-anchor="end">0.04</text><text x="98.4" y="332.8" text-anchor="end">0.06</text><text x="98.4" y="254.1" text-anchor="end">0.08</text><text x="98.4" y="175.3" text-anchor="end">0.1</text><text x="98.4" y="96.5" text-anchor="end">0.12</text><text x="98.4" y="17.7" text-anchor="end">0.14</text></g>
<text x="458.5" y="623.8" text-anchor="middle" font-size="23.3" fill="#111">time (s)</text>
<text transform="translate(44.4 270.3) rotate(-90)" text-anchor="middle" font-size="23.57" fill="#111">horizontal position of the center of the dimer (m)</text>
<text x="135.5" y="72.8" font-family="'Liberation Serif', 'Times New Roman', serif" font-size="43.5" fill="#000">(a)</text>
<clipPath id="cb"><rect x="927.6" y="11.8" width="699" height="551.2"/></clipPath>
<g clip-path="url(#cb)"><polyline fill="none" stroke="#2f6aa6" stroke-width="1.4" stroke-linejoin="round" points="914,483.4 919.5,465.4 925.1,440.8 930.6,411.8 936.1,381.4 941.7,352.4 947.2,327.8 952.8,291.5 958.3,269.2 963.9,248.7 969.4,230.1 975,213.4 980.5,198.4 986.1,185.3 991.6,174 997.2,164.5 1002.7,156.8 1008.3,150.8 1013.8,146.6 1019.4,144.2 1024.9,143.6 1030.5,144.7 1036,147.5 1041.6,152.1 1047.1,158.4 1052.7,166.4 1058.2,176.1 1063.8,187.5 1069.3,200.6 1074.8,215.4 1080.4,231.8 1085.9,249.9 1091.5,269.6 1097,291 1102.6,314.1 1108.1,338.7 1113.7,365 1119.2,392.8 1124.8,422.3 1130.3,453.4 1135.9,483.4 1141.4,465.4 1147,440.8 1152.5,411.8 1158.1,381.4 1163.6,352.4 1169.2,327.8 1174.7,291.5 1180.3,269.2 1185.8,248.7 1191.4,230.1 1196.9,213.4 1202.5,198.4 1208,185.3 1213.5,174 1219.1,164.5 1224.6,156.8 1230.2,150.8 1235.7,146.6 1241.3,144.2 1246.8,143.6 1252.4,144.7 1257.9,147.5 1263.5,152.1 1269,158.4 1274.6,166.4 1280.1,176.1 1285.7,187.5 1291.2,200.6 1296.8,215.4 1302.3,231.8 1307.9,249.9 1313.4,269.6 1319,291 1324.5,314.1 1330.1,338.7 1335.6,365 1341.2,392.8 1346.7,422.3 1352.2,453.4 1357.8,483.4 1363.3,465.4 1368.9,440.8 1374.4,411.8 1380,381.4 1385.5,352.4 1391.1,327.8 1396.6,291.5 1402.2,269.2 1407.7,248.7 1413.3,230.1 1418.8,213.4 1424.4,198.4 1429.9,185.3 1435.5,174 1441,164.5 1446.6,156.8 1452.1,150.8 1457.7,146.6 1463.2,144.2 1468.8,143.6 1474.3,144.7 1479.9,147.5 1485.4,152.1 1490.9,158.4 1496.5,166.4 1502,176.1 1507.6,187.5 1513.1,200.6 1518.7,215.4 1524.2,231.8 1529.8,249.9 1535.3,269.6 1540.9,291 1546.4,314.1 1552,338.7 1557.5,365 1563.1,392.8 1568.6,422.3 1574.2,453.4 1579.7,483.4 1585.3,465.4 1590.8,440.8 1596.4,411.8 1601.9,381.4 1607.5,352.4 1613,327.8 1618.6,291.5 1624.1,269.2 1629.6,248.7 1635.2,230.1 1640.7,213.4"/><polyline fill="none" stroke="#c4602e" stroke-width="1.4" stroke-linejoin="round" points="914,363.6 919.5,378.1 925.1,393.2 930.6,405.4 936.1,375 941.7,346 947.2,321.3 952.8,303.4 958.3,294 963.9,291 969.4,287.7 975,286.4 980.5,286.9 986.1,289.4 991.6,293.9 997.2,300.3 1002.7,308.6 1008.3,318.9 1013.8,331 1019.4,345.2 1024.9,361.2 1030.5,379.2 1036,399.1 1041.6,405.4 1047.1,375 1052.7,346 1058.2,321.3 1063.8,298.7 1069.3,293.9 1074.8,290.5 1080.4,288.5 1085.9,287.9 1091.5,289.3 1097,292.8 1102.6,298.4 1108.1,305.7 1113.7,314.7 1119.2,325.2 1124.8,337 1130.3,349.8 1135.9,363.6 1141.4,378.1 1147,393.2 1152.5,405.4 1158.1,375 1163.6,346 1169.2,321.3 1174.7,303.4 1180.3,294 1185.8,291 1191.4,287.7 1196.9,286.4 1202.5,286.9 1208,289.4 1213.5,293.9 1219.1,300.3 1224.6,308.6 1230.2,318.9 1235.7,331 1241.3,345.2 1246.8,361.2 1252.4,379.2 1257.9,399.1 1263.5,405.4 1269,375 1274.6,346 1280.1,321.3 1285.7,298.7 1291.2,293.9 1296.8,290.5 1302.3,288.5 1307.9,287.9 1313.4,289.3 1319,292.8 1324.5,298.4 1330.1,305.7 1335.6,314.7 1341.2,325.2 1346.7,337 1352.2,349.8 1357.8,363.6 1363.3,378.1 1368.9,393.2 1374.4,405.4 1380,375 1385.5,346 1391.1,321.3 1396.6,303.4 1402.2,294 1407.7,291 1413.3,287.7 1418.8,286.4 1424.4,286.9 1429.9,289.4 1435.5,293.9 1441,300.3 1446.6,308.6 1452.1,318.9 1457.7,331 1463.2,345.2 1468.8,361.2 1474.3,379.2 1479.9,399.1 1485.4,405.4 1490.9,375 1496.5,346 1502,321.3 1507.6,298.7 1513.1,293.9 1518.7,290.5 1524.2,288.5 1529.8,287.9 1535.3,289.3 1540.9,292.8 1546.4,298.4 1552,305.7 1557.5,314.7 1563.1,325.2 1568.6,337 1574.2,349.8 1579.7,363.6 1585.3,378.1 1590.8,393.2 1596.4,405.4 1601.9,375 1607.5,346 1613,321.3 1618.6,303.4 1624.1,294 1629.6,291 1635.2,287.7 1640.7,286.4"/><polyline fill="none" stroke="#e3b040" stroke-width="1.4" stroke-linejoin="round" points="914,483.4 919.5,465.4 925.1,440.8 930.6,411.8 936.1,381.4 941.7,352.4 947.2,327.8 952.8,309.8 958.3,300.4 963.9,300.4 969.4,309.8 975,327.8 980.5,352.4 986.1,381.4 991.6,411.8 997.2,440.8 1002.7,465.4 1008.3,483.4 1013.8,492.8 1019.4,492.8 1024.9,483.4 1030.5,465.4 1036,440.8 1041.6,411.8 1047.1,381.4 1052.7,352.4 1058.2,327.8 1063.8,309.8 1069.3,300.4 1074.8,300.4 1080.4,309.8 1085.9,327.8 1091.5,352.4 1097,381.4 1102.6,411.8 1108.1,440.8 1113.7,465.4 1119.2,483.4 1124.8,492.8 1130.3,492.8 1135.9,483.4 1141.4,465.4 1147,440.8 1152.5,411.8 1158.1,381.4 1163.6,352.4 1169.2,327.8 1174.7,309.8 1180.3,300.4 1185.8,300.4 1191.4,309.8 1196.9,327.8 1202.5,352.4 1208,381.4 1213.5,411.8 1219.1,440.8 1224.6,465.4 1230.2,483.4 1235.7,492.8 1241.3,492.8 1246.8,483.4 1252.4,465.4 1257.9,440.8 1263.5,411.8 1269,381.4 1274.6,352.4 1280.1,327.8 1285.7,309.8 1291.2,300.4 1296.8,300.4 1302.3,309.8 1307.9,327.8 1313.4,352.4 1319,381.4 1324.5,411.8 1330.1,440.8 1335.6,465.4 1341.2,483.4 1346.7,492.8 1352.2,492.8 1357.8,483.4 1363.3,465.4 1368.9,440.8 1374.4,411.8 1380,381.4 1385.5,352.4 1391.1,327.8 1396.6,309.8 1402.2,300.4 1407.7,300.4 1413.3,309.8 1418.8,327.8 1424.4,352.4 1429.9,381.4 1435.5,411.8 1441,440.8 1446.6,465.4 1452.1,483.4 1457.7,492.8 1463.2,492.8 1468.8,483.4 1474.3,465.4 1479.9,440.8 1485.4,411.8 1490.9,381.4 1496.5,352.4 1502,327.8 1507.6,309.8 1513.1,300.4 1518.7,300.4 1524.2,309.8 1529.8,327.8 1535.3,352.4 1540.9,381.4 1546.4,411.8 1552,440.8 1557.5,465.4 1563.1,483.4 1568.6,492.8 1574.2,492.8 1579.7,483.4 1585.3,465.4 1590.8,440.8 1596.4,411.8 1601.9,381.4 1607.5,352.4 1613,327.8 1618.6,309.8 1624.1,300.4 1629.6,300.4 1635.2,309.8 1640.7,327.8"/></g>
<path d="M930.6 563V556M930.6 11.8V18.8M1069.3 563V556M1069.3 11.8V18.8M1208 563V556M1208 11.8V18.8M1346.7 563V556M1346.7 11.8V18.8M1485.4 563V556M1485.4 11.8V18.8M1624.1 563V556M1624.1 11.8V18.8M927.6 544.5H934.6M1626.6 544.5H1619.6M927.6 495.2H934.6M1626.6 495.2H1619.6M927.6 445.9H934.6M1626.6 445.9H1619.6M927.6 396.6H934.6M1626.6 396.6H1619.6M927.6 347.3H934.6M1626.6 347.3H1619.6M927.6 298H934.6M1626.6 298H1619.6M927.6 248.7H934.6M1626.6 248.7H1619.6M927.6 199.4H934.6M1626.6 199.4H1619.6M927.6 150.1H934.6M1626.6 150.1H1619.6M927.6 100.8H934.6M1626.6 100.8H1619.6M927.6 51.5H934.6M1626.6 51.5H1619.6" stroke="#404040" stroke-width="1.3" fill="none"/>
<rect x="927.6" y="11.8" width="699" height="551.2" fill="none" stroke="#404040" stroke-width="1.3"/>
<g font-size="21.5" fill="#111" stroke="#111" stroke-width="0.35"><text x="929.6" y="595.1" text-anchor="middle">2</text><text x="1068.3" y="595.1" text-anchor="middle">2.05</text><text x="1207" y="595.1" text-anchor="middle">2.1</text><text x="1345.7" y="595.1" text-anchor="middle">2.15</text><text x="1484.4" y="595.1" text-anchor="middle">2.2</text><text x="1623.1" y="595.1" text-anchor="middle">2.25</text><text x="918.2" y="553.5" text-anchor="end">-3</text><text x="918.2" y="504.2" text-anchor="end">-2</text><text x="918.2" y="454.9" text-anchor="end">-1</text><text x="918.2" y="405.6" text-anchor="end">0</text><text x="918.2" y="356.3" text-anchor="end">1</text><text x="918.2" y="307" text-anchor="end">2</text><text x="918.2" y="257.7" text-anchor="end">3</text><text x="918.2" y="208.4" text-anchor="end">4</text><text x="918.2" y="159.1" text-anchor="end">5</text><text x="918.2" y="109.8" text-anchor="end">6</text><text x="918.2" y="60.5" text-anchor="end">7</text></g>
<text x="1277.5" y="626.7" text-anchor="middle" font-size="23.3" fill="#111">time (s)</text>
<text transform="translate(892.0 262.1) rotate(-90)" text-anchor="middle" font-size="22" fill="#111">Y (mm)</text>
<text x="957.6" y="68" font-family="'Liberation Serif', 'Times New Roman', serif" font-size="43.5" fill="#000">(b)</text>
<line x1="1312.6" y1="49.4" x2="1376.6" y2="49.4" stroke="#2f6aa6" stroke-width="1.4"/><text x="1381.5" y="57.3" font-size="19.3" fill="#111">bottom height of left ball</text><line x1="1312.6" y1="76" x2="1376.6" y2="76" stroke="#c4602e" stroke-width="1.4"/><text x="1381.5" y="84" font-size="19.3" fill="#111">bottom height of right ball</text><line x1="1312.6" y1="102.7" x2="1376.6" y2="102.7" stroke="#e3b040" stroke-width="1.4"/><text x="1381.5" y="110.6" font-size="19.3" fill="#111">height of the plate</text>
<clipPath id="cc"><rect x="85" y="687.7" width="699.6" height="551.3"/></clipPath>
<polyline clip-path="url(#cc)" fill="none" stroke="#2f6aa6" stroke-width="1.25" stroke-linejoin="round" points="78.1,764 83.6,764.8 89.1,764.8 94.6,896.3 100.1,962.8 105.7,937 111.2,953.9 116.7,951.8 122.2,950.3 127.8,949.3 133.3,948.6 138.8,948.1 144.3,947.8 149.8,947.6 155.4,947.4 160.9,947.3 166.4,947.3 171.9,947.2 177.4,947.2 183,947.2 188.5,947.2 194,947.2 199.5,1177.2 205.1,1051.9 210.6,1118.5 216.1,1169.4 221.6,1129.8 227.1,1124.4 232.7,1120.7 238.2,1118.2 243.7,1116.4 249.2,1115.3 254.7,1114.4 260.3,1113.9 265.8,1113.5 271.3,1113.2 276.8,1113.1 282.4,1112.9 287.9,1112.9 293.4,814.4 298.9,791.5 304.4,769 310,757.2 315.5,903.5 321,966.7 326.5,939.5 332.1,956.5 337.6,953.5 343.1,952 348.6,950.9 354.1,950.3 359.7,949.8 365.2,949.5 370.7,949.3 376.2,949.1 381.7,949 387.3,949 392.8,948.9 398.3,948.9 403.8,948.9 409.4,948.9 414.9,948.9 420.4,1189.9 425.9,1053.7 431.4,1121.9 437,1175.7 442.5,1132 448,1126.7 453.5,1123.1 459,1120.6 464.6,1119 470.1,1117.8 475.6,1117 481.1,1116.4 486.7,1116.1 492.2,1115.8 497.7,1115.6 503.2,1115.5 508.7,1115.4 514.3,798.7 519.8,783.7 525.3,761.5 530.8,760.5 536.3,899.4 541.9,970.4 547.4,938.5 552.9,955.8 558.4,953.5 564,951.9 569.5,950.8 575,950 580.5,949.6 586,949.2 591.6,949 597.1,948.9 602.6,948.8 608.1,948.7 613.7,948.6 619.2,948.6 624.7,948.6 630.2,948.6 635.7,948.6 641.3,1208.4 646.8,1053 652.3,1121 657.8,1180.6 663.3,1131.2 668.9,1126 674.4,1122.4 679.9,1119.9 685.4,1118.2 691,1117 696.5,1116.2 702,1115.7 707.5,1115.3 713,1115.1 718.6,1114.9 724.1,1114.8 729.6,1114.7 735.1,785.5 740.6,775.9 746.2,764.9 751.7,758.6 757.2,903.1 762.7,972.6 768.3,937.8 773.8,955.2 779.3,952.7 784.8,950.5 790.3,949.7"/>
<path d="M89.1 1239V1232M89.1 687.7V694.7M227.1 1239V1232M227.1 687.7V694.7M365.2 1239V1232M365.2 687.7V694.7M503.2 1239V1232M503.2 687.7V694.7M641.3 1239V1232M641.3 687.7V694.7M779.3 1239V1232M779.3 687.7V694.7M85 1226.2H92M784.6 1226.2H777.6M85 1141.4H92M784.6 1141.4H777.6M85 1056.6H92M784.6 1056.6H777.6M85 971.8H92M784.6 971.8H777.6M85 886.9H92M784.6 886.9H777.6M85 802.1H92M784.6 802.1H777.6M85 717.3H92M784.6 717.3H777.6" stroke="#404040" stroke-width="1.3" fill="none"/>
<rect x="85" y="687.7" width="699.6" height="551.3" fill="none" stroke="#404040" stroke-width="1.3"/>
<g font-size="21.5" fill="#111" stroke="#111" stroke-width="0.35"><text x="88.1" y="1270.6" text-anchor="middle">2</text><text x="226.1" y="1270.6" text-anchor="middle">2.05</text><text x="364.2" y="1270.6" text-anchor="middle">2.1</text><text x="502.2" y="1270.6" text-anchor="middle">2.15</text><text x="640.3" y="1270.6" text-anchor="middle">2.2</text><text x="778.3" y="1270.6" text-anchor="middle">2.25</text><text x="75" y="1235.2" text-anchor="end">-0.04</text><text x="75" y="1150.4" text-anchor="end">-0.02</text><text x="75" y="1065.6" text-anchor="end">0</text><text x="75" y="980.8" text-anchor="end">0.02</text><text x="75" y="895.9" text-anchor="end">0.04</text><text x="75" y="811.1" text-anchor="end">0.06</text><text x="75" y="726.3" text-anchor="end">0.08</text></g>
<text x="435" y="1302.5" text-anchor="middle" font-size="23.3" fill="#111">time (s)</text>
<text transform="translate(16.5 907.5) rotate(-90)" text-anchor="middle" font-size="19.5" fill="#111">Vx (m/s)</text>
<text x="109.6" y="742.2" font-family="'Liberation Serif', 'Times New Roman', serif" font-size="43.5" fill="#000">(c)</text>
<path d="M1023.6 691.4V1286.9M1148.8 691.4V1286.9M1274.1 691.4V1286.9M1399.3 691.4V1286.9M1524.5 691.4V1286.9M897.2 1220.7H1645.9M897.2 1154.6H1645.9M897.2 1088.4H1645.9M897.2 1022.2H1645.9M897.2 956.1H1645.9M897.2 889.9H1645.9M897.2 823.7H1645.9M897.2 757.6H1645.9" stroke="#dedede" stroke-width="1.1" fill="none"/>
<clipPath id="cd"><rect x="897.2" y="691.4" width="748.7" height="595.5"/></clipPath>
<g clip-path="url(#cd)"><path d="M1014.7,878.7 L1290,879.3 Q1372,880.8 1386,883.6 Q1392.5,886 1393.2,900 L1393.8,931" fill="none" stroke="#0072BD" stroke-width="2.9" stroke-linecap="round" stroke-linejoin="round"/><path d="M1051.5,902.4 L1290,902.9 Q1362,904.2 1377,906.8 Q1383.5,909 1384.5,918 L1386,934" fill="none" stroke="#0072BD" stroke-width="2.9" stroke-linecap="round" stroke-linejoin="round"/><path d="M1060.2,916.5 L1290,916.9 Q1362,918.2 1377,920.6 Q1383,923 1384,930 L1386,940" fill="none" stroke="#0072BD" stroke-width="2.9" stroke-linecap="round" stroke-linejoin="round"/><polygon points="1059.5,930.6 1290,931.4 1380,933.5 1391,935.5 1393,941 1391,948 1375,946 1290,943.2 1059.5,942.3" fill="#0072BD"/><polygon points="1396,888 1418.5,884 1418,930 1414,945 1411.6,956 1406.7,990 1403,1022 1401.5,1040 1400.6,1052 1398.6,1050 1398,1030 1397.5,1005 1393.7,981 1390.5,957 1391.5,935 1394,905" fill="#0072BD"/><path d="M1391.5,855.8 H1414 Q1418,856 1418,862 V930" fill="none" stroke="#0072BD" stroke-width="2.9" stroke-linecap="round" stroke-linejoin="round"/><path d="M1399.5,864.6 H1412 Q1415,865 1415,870 V930" fill="none" stroke="#0072BD" stroke-width="2.7" stroke-linecap="round" stroke-linejoin="round"/><path d="M1400.5,875.8 H1410 Q1412.3,876.3 1412.3,880 V930" fill="none" stroke="#0072BD" stroke-width="2.7" stroke-linecap="round" stroke-linejoin="round"/><path d="M1401,884.8 H1407.5 Q1409.6,885.2 1409.6,889 V930" fill="none" stroke="#0072BD" stroke-width="2.7" stroke-linecap="round" stroke-linejoin="round"/><path d="M1382.5,898.8 H1396" fill="none" stroke="#0072BD" stroke-width="2.8" stroke-linecap="round" stroke-linejoin="round"/><path d="M1389,910.3 H1396" fill="none" stroke="#0072BD" stroke-width="2.8" stroke-linecap="round" stroke-linejoin="round"/><path d="M1402,893 V940" fill="none" stroke="#0072BD" stroke-width="3" stroke-linecap="round" stroke-linejoin="round"/><path d="M1399.3,744.5 V762" fill="none" stroke="#0072BD" stroke-width="3.2" stroke-linecap="round" stroke-dasharray="0 2.3"/><path d="M1399.3,806 V856" fill="none" stroke="#0072BD" stroke-width="3.0" stroke-linecap="round" stroke-dasharray="0 8.5"/><polygon points="1399.3,766.2 1415.5,762.8 1432.4,760.6 1457.9,758.8 1474.8,757.6 1500,757.2 1525.8,757.4 1544.7,759.6 1556,761.4 1567.5,764.0 1575,766.5 1583,768.5 1578,776 1572.9,783.6 1567.5,797.1 1566.5,815 1565.8,840 1565.2,874.3 1564.6,905 1562.5,925 1560.3,935 1559,948 1556.5,951.8 1553.4,950 1553.2,930 1552.6,912.9 1549.7,901.3 1546.5,897 1545,893.6 1544.2,880 1542.8,868.3 1538.5,857 1535.6,847.5 1529,838.5 1522,830.6 1508.8,821.2 1491.8,813.2 1466.4,806.2 1432.4,801.1 1401,800.2 1398.2,799.5 1398.2,766" fill="#0072BD"/><path d="M1403.0,784.5 L1419.9,767.6 M1408.5,784.9 L1426.3,766.5 M1413.9,785.3 L1432.6,765.3 M1419.4,785.7 L1438.5,764.5 M1424.8,786.1 L1444.3,763.8 M1430.3,786.5 L1449.9,763.1 M1435.7,786.9 L1455.4,762.6 M1441.2,787.3 L1460.6,762.2 M1446.6,787.7 L1465.9,761.8 M1452.1,788.1 L1471.1,761.4 M1457.5,788.5 L1476.2,761.0 M1463.0,788.9 L1481.3,760.6 M1468.4,789.3 L1486.3,760.3 M1473.9,789.7 L1482.6,774.8 M1484.0,772.3 L1491.3,759.9 M1479.3,790.1 L1487.7,774.9 M1489.1,772.4 L1496.1,759.7 M1484.8,790.5 L1492.8,775.0 M1494.1,772.5 L1500.8,759.6 M1490.2,790.9 L1497.9,775.2 M1499.1,772.7 L1505.5,759.6 M1495.7,791.3 L1503.0,775.3 M1504.1,772.8 L1510.2,759.5 M1501.1,791.7 L1508.0,775.4 M1509.1,772.9 L1514.8,759.4 M1506.6,792.1 L1513.0,775.6 M1514.0,773.1 L1519.4,759.5 M1512.0,792.5 L1518.0,775.8 M1518.9,773.3 L1523.9,759.5 M1517.5,792.9 L1523.0,776.0 M1523.8,773.5 L1528.4,759.5 M1522.9,793.3 L1528.0,776.2 M1528.7,773.7 L1532.9,759.6 M1528.4,793.7 L1532.9,776.6 M1533.5,774.1 L1537.3,759.9 M1533.8,794.1 L1537.7,777.1 M1538.3,774.6 L1541.6,760.5 M1539.3,794.5 L1542.6,777.7 M1543.1,775.2 L1545.9,761.2 M1544.7,794.9 L1547.5,778.2 M1547.9,775.7 L1550.3,761.8 M1550.2,795.3 L1552.4,778.8 M1552.7,776.3 L1554.6,762.7 M1555.6,795.5 L1557.5,779.4 M1557.8,776.9 L1559.4,763.5 M1561.1,795.5 L1562.9,780.1 M1563.2,777.6 L1564.7,764.7 M1566.5,795.5 L1568.3,780.8 M1568.6,778.3 L1570.0,766.0" stroke="#ffffff" stroke-width="1.05" stroke-opacity="0.8" stroke-dasharray="7 2.2" fill="none"/><circle cx="1403.0" cy="765.8" r="1.55" fill="#0072BD"/><circle cx="1408.5" cy="764.7" r="1.55" fill="#0072BD"/><circle cx="1413.9" cy="763.5" r="1.55" fill="#0072BD"/><circle cx="1419.4" cy="762.7" r="1.55" fill="#0072BD"/><circle cx="1424.8" cy="762.0" r="1.55" fill="#0072BD"/><circle cx="1430.3" cy="761.3" r="1.55" fill="#0072BD"/><circle cx="1435.7" cy="760.8" r="1.55" fill="#0072BD"/><circle cx="1441.2" cy="760.4" r="1.55" fill="#0072BD"/><circle cx="1446.6" cy="760.0" r="1.55" fill="#0072BD"/><circle cx="1452.1" cy="759.6" r="1.55" fill="#0072BD"/><circle cx="1457.5" cy="759.2" r="1.55" fill="#0072BD"/><circle cx="1463.0" cy="758.8" r="1.55" fill="#0072BD"/><circle cx="1468.4" cy="758.5" r="1.55" fill="#0072BD"/><circle cx="1473.9" cy="758.1" r="1.55" fill="#0072BD"/><circle cx="1479.3" cy="757.9" r="1.55" fill="#0072BD"/><circle cx="1484.8" cy="757.8" r="1.55" fill="#0072BD"/><circle cx="1490.2" cy="757.8" r="1.55" fill="#0072BD"/><circle cx="1495.7" cy="757.7" r="1.55" fill="#0072BD"/><circle cx="1501.1" cy="757.6" r="1.55" fill="#0072BD"/><circle cx="1506.6" cy="757.7" r="1.55" fill="#0072BD"/><circle cx="1512.0" cy="757.7" r="1.55" fill="#0072BD"/><circle cx="1517.5" cy="757.7" r="1.55" fill="#0072BD"/><circle cx="1522.9" cy="757.8" r="1.55" fill="#0072BD"/><circle cx="1528.4" cy="758.1" r="1.55" fill="#0072BD"/><circle cx="1533.8" cy="758.7" r="1.55" fill="#0072BD"/><circle cx="1539.3" cy="759.4" r="1.55" fill="#0072BD"/><circle cx="1544.7" cy="760.0" r="1.55" fill="#0072BD"/><circle cx="1550.2" cy="760.9" r="1.55" fill="#0072BD"/><circle cx="1555.6" cy="761.7" r="1.55" fill="#0072BD"/><circle cx="1561.1" cy="762.9" r="1.55" fill="#0072BD"/><circle cx="1566.5" cy="764.2" r="1.55" fill="#0072BD"/><circle cx="1572.0" cy="765.9" r="1.55" fill="#0072BD"/><circle cx="1577.4" cy="767.5" r="1.55" fill="#0072BD"/><path d="M1571.5,800 L1570.8,927" fill="none" stroke="#0072BD" stroke-width="3.0" stroke-linecap="round" stroke-linejoin="round"/><path d="M1577,768 L1575.8,915" fill="none" stroke="#0072BD" stroke-width="3.0" stroke-linecap="round" stroke-dasharray="0 3.6"/><path d="M1584.5,768 L1583.8,817" fill="none" stroke="#0072BD" stroke-width="3.0" stroke-linecap="round" stroke-dasharray="0 2.6"/><path d="M1590.2,776 L1589.6,836" fill="none" stroke="#0072BD" stroke-width="3.0" stroke-linecap="round" stroke-linejoin="round"/><path d="M1596.3,780 L1595.6,861" fill="none" stroke="#0072BD" stroke-width="3.0" stroke-linecap="round" stroke-linejoin="round"/><path d="M1604.7,782 L1604.2,903" fill="none" stroke="#0072BD" stroke-width="3.0" stroke-linecap="round" stroke-linejoin="round"/><path d="M1614.8,776 L1612,874" fill="none" stroke="#0072BD" stroke-width="3.0" stroke-linecap="round" stroke-dasharray="0 4.2"/><path d="M1565.8,800 L1565.5,950" fill="none" stroke="#0072BD" stroke-width="3.0" stroke-linecap="round" stroke-dasharray="0 4.0"/><path d="M1566.2,955 L1565.2,1100" fill="none" stroke="#0072BD" stroke-width="3.2" stroke-linecap="round" stroke-dasharray="0 6.5"/><circle cx="1581.7" cy="975.3" r="1.6" fill="#0072BD"/><circle cx="1579.6" cy="1066.6" r="1.6" fill="#0072BD"/><circle cx="1615.1" cy="1071.1" r="1.6" fill="#0072BD"/><circle cx="1566.5" cy="1097" r="1.6" fill="#0072BD"/><circle cx="1564.5" cy="1093" r="1.6" fill="#0072BD"/><circle cx="1566.8" cy="1063" r="1.6" fill="#0072BD"/><circle cx="1565.4" cy="1070" r="1.6" fill="#0072BD"/><path d="M1210.6,1050.5 C1214,1040 1222,1034 1245,1031.5 C1290,1026.3 1340,1023.2 1400,1021.4 L1615.8,1020.9" fill="none" stroke="#0072BD" stroke-width="2.9" stroke-linecap="round" stroke-linejoin="round"/><path d="M1190.6,1056.7 C1196,1051 1205,1046 1224,1043.4 C1260,1038.5 1320,1033 1398.5,1031.1 L1580.3,1030.4" fill="none" stroke="#0072BD" stroke-width="2.9" stroke-linecap="round" stroke-linejoin="round"/><path d="M1249.3,1069.2 C1252,1060 1258,1054 1280,1050.7 C1320,1046 1360,1044 1398.5,1043.2 L1582.4,1042.2" fill="none" stroke="#0072BD" stroke-width="2.9" stroke-linecap="round" stroke-linejoin="round"/><path d="M1202,1113.8 C1205,1095 1210,1080 1223.8,1066.5 C1235,1061.5 1250,1060.9 1280,1057 C1320,1052.5 1360,1050 1398.5,1049.4 L1566.4,1049.2" fill="none" stroke="#0072BD" stroke-width="2.9" stroke-linecap="round" stroke-linejoin="round"/><path d="M1203,1061.9 C1206,1057 1210,1054.2 1220,1052.8 L1249.8,1049.5" fill="none" stroke="#0072BD" stroke-width="2.8" stroke-linecap="round" stroke-linejoin="round"/><path d="M1200,1145.5 C1204,1115 1211,1093 1227,1083.5 C1245,1078 1270,1076.3 1300,1071.6 C1340,1068 1370,1067 1398.5,1066.6 L1567.5,1066.3" fill="none" stroke="#0072BD" stroke-width="10.5" stroke-linecap="round" stroke-linejoin="round"/><path d="M1196,1060 C1197,1080 1196,1100 1196.5,1130" fill="none" stroke="#0072BD" stroke-width="3.0" stroke-linecap="round" stroke-dasharray="0 3.5"/><path d="M1131.4,1080.6 C1136,1055 1142,1038 1150,1030 C1156,1025 1162,1022 1169.8,1020.9" fill="none" stroke="#0072BD" stroke-width="2.9" stroke-linecap="round" stroke-linejoin="round"/><path d="M1137,1110 C1143,1070 1150,1048 1158,1038.5 C1164,1033.5 1172,1032.2 1185.4,1031.8" fill="none" stroke="#0072BD" stroke-width="2.9" stroke-linecap="round" stroke-linejoin="round"/><polygon points="1135.4,1195.5 1136.1,1165.1 1136.8,1137 1143.9,1108.7 1150.9,1087.6 1158,1073.5 1163.6,1066.4 1170,1061 1176.3,1058.5 1190,1058 1200.3,1058.6 1202.5,1062 1201.7,1067.8 1190,1067.5 1181,1067.5 1175,1069 1169.2,1073.5 1160.8,1087.6 1153.7,1108.7 1148.8,1137 1146,1165.1 1141.7,1195.5 1138.5,1197" fill="#0072BD"/><path d="M1163,1070 C1167,1055 1172,1047 1180,1045.3 L1197.9,1044.8" fill="none" stroke="#0072BD" stroke-width="2.8" stroke-linecap="round" stroke-linejoin="round"/><path d="M1178.1,1091 C1180,1078 1183,1068 1188,1064" fill="none" stroke="#0072BD" stroke-width="2.8" stroke-linecap="round" stroke-linejoin="round"/><path d="M1184.4,1120 C1187,1090 1192,1070 1198,1063" fill="none" stroke="#0072BD" stroke-width="2.8" stroke-linecap="round" stroke-linejoin="round"/><path d="M1121,1097 C1124,1082 1128,1072 1131,1065" fill="none" stroke="#0072BD" stroke-width="2.8" stroke-linecap="round" stroke-linejoin="round"/><path d="M1133,1050 C1129,1090 1127,1130 1126,1162" fill="none" stroke="#0072BD" stroke-width="3.0" stroke-linecap="round" stroke-dasharray="0 4.2"/><path d="M1139,1060 C1136,1100 1134,1140 1134,1180" fill="none" stroke="#0072BD" stroke-width="3.0" stroke-linecap="round" stroke-dasharray="0 4.0"/><path d="M1078.8,961.2 C1071,957.5 1065,955.8 1060.6,957.6 C1052,961 1044,978 1039.5,1000 L1037.5,1012" fill="none" stroke="#0072BD" stroke-width="2.7" stroke-linecap="round" stroke-linejoin="round"/><path d="M1037.5,1014 C1033,1040 1029,1070 1026,1096 C1022,1130 1019,1165 1016.5,1208" fill="none" stroke="#0072BD" stroke-width="3.0" stroke-linecap="round" stroke-dasharray="0 5.6"/><polygon points="1111.9,1011.1 1103.6,1021.3 1097.1,1034.3 1091.5,1049.1 1086.9,1067.7 1083.2,1086.2 1080.4,1100 1076.5,1125 1072.3,1150 1068.5,1180 1064.2,1215 1061.5,1245 1060,1271 1063.2,1274.5 1066.5,1271 1068.5,1245 1072.8,1215 1076.5,1180 1079.5,1150 1083.5,1125 1088,1100 1092.5,1080 1097.1,1063 1100.8,1049.1 1104.5,1035.2 1111.9,1026.9 1124.9,1022.3 1141.6,1023.4 1142.3,1015 1138,1011 1130,1010 1120,1010" fill="#0072BD"/><path d="M1125.8,988.9 C1118,985.5 1112,984 1107.3,984.7 C1102,985.5 1099,987.5 1097.1,989.8 C1092,995 1089.5,999.5 1087.8,1002.8 C1084,1011 1080,1025 1077.6,1035.2 C1075,1046 1073,1058 1070.2,1072.3 L1067.4,1092.7 L1065.5,1112" fill="none" stroke="#0072BD" stroke-width="2.9" stroke-linecap="round" stroke-linejoin="round"/><path d="M1136.9,1002.3 C1128,999 1122,998 1117.5,998.6 C1110,1000 1102,1012 1097.1,1021.3 C1092,1033 1088,1048 1086,1058.4 C1083,1075 1081,1088 1079.5,1100 L1075.5,1130" fill="none" stroke="#0072BD" stroke-width="2.9" stroke-linecap="round" stroke-linejoin="round"/><path d="M1132.3,1007 C1125,1005 1118,1005 1113,1007.5 C1106,1011 1101,1020 1098.5,1028" fill="none" stroke="#0072BD" stroke-width="2.8" stroke-linecap="round" stroke-linejoin="round"/><path d="M1094.3,1056.6 L1091.5,1090.8" fill="none" stroke="#0072BD" stroke-width="3.0" stroke-linecap="round" stroke-dasharray="0 4.2"/><path d="M1150,1108 C1158,1075 1168,1052 1180,1042.5 C1190,1034.5 1200,1031 1211.8,1029.4" fill="none" stroke="#0072BD" stroke-width="2.9" stroke-linecap="round" stroke-linejoin="round"/><path d="M1062.4,919 L1062.5,1000 L1061.5,1120 L1062,1270" fill="none" stroke="#0072BD" stroke-width="3.0" stroke-linecap="round" stroke-dasharray="0 4.6"/><path d="M1066,1085 C1062,1140 1057,1190 1052.8,1244" fill="none" stroke="#0072BD" stroke-width="3.0" stroke-linecap="round" stroke-dasharray="0 6.0"/><path d="M1067,1030 C1065,1060 1064,1100 1066,1180" fill="none" stroke="#0072BD" stroke-width="3.0" stroke-linecap="round" stroke-dasharray="0 5.0"/><path d="M1086.5,974.8 H1091.5" fill="none" stroke="#0072BD" stroke-width="3.0" stroke-linecap="round" stroke-linejoin="round"/><circle cx="1015.8" cy="1028.2" r="1.6" fill="#0072BD"/><circle cx="1051.5" cy="981.7" r="1.6" fill="#0072BD"/><circle cx="1090.9" cy="1005.9" r="1.6" fill="#0072BD"/><circle cx="1051.9" cy="1243.7" r="1.6" fill="#0072BD"/><circle cx="1054.5" cy="1217.8" r="1.6" fill="#0072BD"/><circle cx="1125.9" cy="1121.7" r="1.6" fill="#0072BD"/><circle cx="1125.9" cy="1160.7" r="1.6" fill="#0072BD"/><circle cx="1015.6" cy="1207.4" r="1.6" fill="#0072BD"/><circle cx="1017" cy="1193" r="1.6" fill="#0072BD"/><circle cx="1020" cy="1148" r="1.6" fill="#0072BD"/><circle cx="1063.6" cy="938" r="1.6" fill="#0072BD"/><circle cx="1061.3" cy="926" r="1.6" fill="#0072BD"/><circle cx="1063.8" cy="948" r="1.6" fill="#0072BD"/></g>
<path d="M898.4 1286.9V1280.4M898.4 691.4V697.9M1023.6 1286.9V1280.4M1023.6 691.4V697.9M1148.8 1286.9V1280.4M1148.8 691.4V697.9M1274.1 1286.9V1280.4M1274.1 691.4V697.9M1399.3 1286.9V1280.4M1399.3 691.4V697.9M1524.5 1286.9V1280.4M1524.5 691.4V697.9M897.2 1286.9H903.7M1645.9 1286.9H1639.4M897.2 1220.7H903.7M1645.9 1220.7H1639.4M897.2 1154.6H903.7M1645.9 1154.6H1639.4M897.2 1088.4H903.7M1645.9 1088.4H1639.4M897.2 1022.2H903.7M1645.9 1022.2H1639.4M897.2 956.1H903.7M1645.9 956.1H1639.4M897.2 889.9H903.7M1645.9 889.9H1639.4M897.2 823.7H903.7M1645.9 823.7H1639.4M897.2 757.6H903.7M1645.9 757.6H1639.4M897.2 691.4H903.7M1645.9 691.4H1639.4" stroke="#404040" stroke-width="1.3" fill="none"/>
<rect x="897.2" y="691.4" width="748.7" height="595.5" fill="none" stroke="#404040" stroke-width="1.3"/>
<g font-size="17" fill="#262626"><text x="898.4" y="1313.1" text-anchor="middle">-8</text><text x="1023.6" y="1313.1" text-anchor="middle">-6</text><text x="1148.8" y="1313.1" text-anchor="middle">-4</text><text x="1274.1" y="1313.1" text-anchor="middle">-2</text><text x="1399.3" y="1313.1" text-anchor="middle">0</text><text x="1524.5" y="1313.1" text-anchor="middle">2</text><text x="888.9" y="1293.5" text-anchor="end">-0.08</text><text x="888.9" y="1227.3" text-anchor="end">-0.06</text><text x="888.9" y="1161.2" text-anchor="end">-0.04</text><text x="888.9" y="1095" text-anchor="end">-0.02</text><text x="888.9" y="1028.8" text-anchor="end">0</text><text x="888.9" y="962.7" text-anchor="end">0.02</text><text x="888.9" y="896.5" text-anchor="end">0.04</text><text x="888.9" y="830.3" text-anchor="end">0.06</text><text x="888.9" y="764.2" text-anchor="end">0.08</text><text x="888.9" y="698" text-anchor="end">0.1</text></g>
<text x="921.6" y="739.8" font-size="40" fill="#000">(d)</text>
<text x="1255" y="1336.7" font-size="16.5" fill="#111">y<tspan dy="7.6" font-size="14.5">r</tspan><tspan dy="-7.6">-y</tspan><tspan dy="7.6" font-size="14.5">l</tspan><tspan dy="-7.6" xml:space="preserve">  (m)</tspan></text>
<text x="1603.2" y="1338.7" font-size="16.5" fill="#111"><tspan fill="#666">×</tspan><tspan dx="3.8">10</tspan><tspan dy="-8.2" font-size="12.4">-3</tspan></text>
<text transform="translate(832.8 1055.3) rotate(-90)" font-size="17.2" fill="#111">v<tspan dy="8.8" font-size="15.4">x</tspan><tspan dy="-8.8"> of the dimer (m/s)</tspan></text></svg>
</body></html>
